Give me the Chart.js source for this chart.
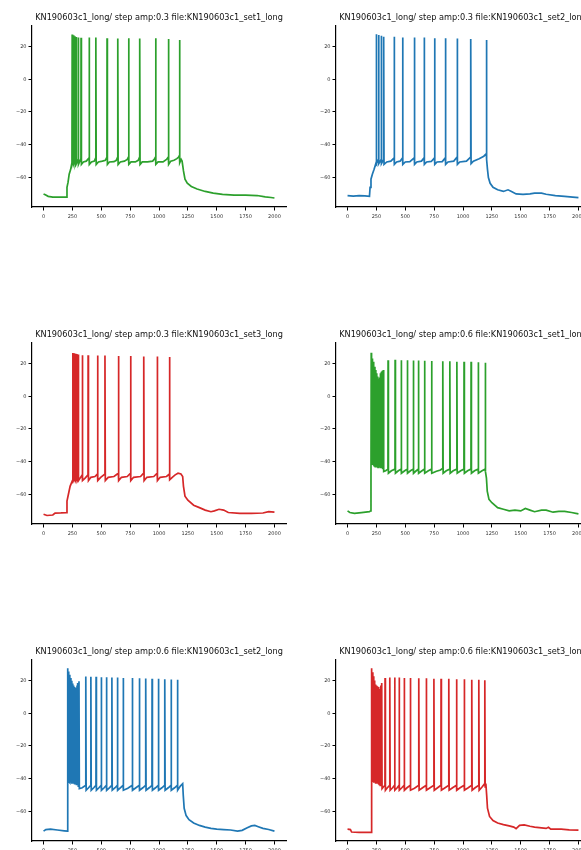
<!DOCTYPE html>
<html>
<head>
<meta charset="utf-8">
<title>Step current responses</title>
<style>
    html, body { margin: 0; padding: 0; background: #fff; overflow: hidden; }
    body { width: 581px; height: 850px; position: relative; }
    canvas { position: absolute; }
</style>
<script src="https://cdn.jsdelivr.net/npm/chart.js@4/dist/chart.umd.min.js"></script>
</head>
<body>
<script>
// Tick values shared by every panel
const xTicks = [0, 250, 500, 750, 1000, 1250, 1500, 1750, 2000];
const yTicks = [20, 0, -20, -40, -60];

const titles = [
    'KN190603c1_long/ step amp:0.3 file:KN190603c1_set1_long',
    'KN190603c1_long/ step amp:0.3 file:KN190603c1_set2_long',
    'KN190603c1_long/ step amp:0.3 file:KN190603c1_set3_long',
    'KN190603c1_long/ step amp:0.6 file:KN190603c1_set1_long',
    'KN190603c1_long/ step amp:0.6 file:KN190603c1_set2_long',
    'KN190603c1_long/ step amp:0.6 file:KN190603c1_set3_long'
];

// Membrane potential traces, [time (ms), voltage (mV)]
const amp03set1 = [
    [0,-70],[15,-70.5],[40,-71.5],[80,-72],[150,-72],[198,-72],
    [203,-66],[212,-63],[222,-58],[235,-55],[246,-51],
    [248,27.3],[251,-51],[259,-49],[260,26.8],[263,-51.5],[271,-49.5],[272,26.2],[275,-51.5],[282,-49.5],[283,25.8],[286,-51.5],
    [300,-49],[301,25.5],[304,-52],[324,-48.5],[325,25.3],[328,-52],
    [345,-50.5],[370,-50],[394,-48],[395,25.5],[398,-52],[415,-50.5],[440,-50],[452,-48],[453,25.5],[456,-52],
    [475,-50.5],[510,-50],[535,-49.5],[549,-47.5],[550,25],[553,-52],[570,-50.5],[610,-50.3],[630,-49.5],[642,-47.5],[643,24.8],[646,-52],
    [665,-50.5],[700,-50],[725,-49],[736,-47.5],[737,25],[740,-52],[758,-50.5],[795,-50.5],[820,-49.5],[832,-47.5],[833,24.8],[836,-52],
    [855,-50.5],[900,-50.5],[945,-50],[962,-48.5],[970,-47.5],[971,25],[974,-52],[992,-50.5],[1035,-50.5],[1065,-49],[1081,-47.5],[1082,24.5],[1085,-52],
    [1102,-50],[1130,-49.5],[1155,-48.5],[1170,-47.5],[1177,-46.5],[1178,24],[1181,-51],[1192,-49],[1200,-50],
    [1212,-56],[1225,-61],[1245,-63.5],[1280,-65.5],[1330,-67],[1400,-68.5],[1470,-69.5],[1550,-70.3],[1650,-70.8],[1750,-70.8],
    [1850,-71],[1920,-71.8],[1970,-72.2],[2000,-72.5]
];

const amp03set2 = [
    [0,-71],[50,-71.3],[100,-71],[150,-71.2],[190,-71.5],[195,-66],[203,-61],[215,-58],[230,-55],[247,-51],
    [249,27.5],[252,-51.5],[268,-49],[269,27],[272,-51.5],[291,-49],[292,26.5],[295,-51.5],[312,-49],[313,26],[316,-52],
    [340,-50.5],[375,-50],[403,-48],[404,26],[407,-52],[425,-50.5],[455,-50],[476,-48],[477,25.5],[480,-52],
    [500,-50.5],[540,-50.3],[578,-48],[579,25.5],[582,-52],[600,-50.5],[640,-50],[663,-48],[664,25.5],[667,-52],
    [685,-50.5],[725,-50.2],[753,-48],[754,25],[757,-52],[775,-50.5],[820,-50.3],[847,-48],[848,25],[851,-52],
    [870,-50.5],[920,-50],[949,-47.5],[950,24.8],[953,-52],[972,-50.5],[1030,-50],[1066,-47.5],[1067,24.5],[1070,-51.5],
    [1090,-50],[1140,-48.5],[1180,-47],[1202,-45.5],[1203,24],[1206,-49],
    [1212,-55],[1220,-60],[1235,-63.5],[1260,-66],[1300,-67.5],[1350,-68.5],[1390,-67.5],[1420,-68.5],[1460,-70],[1520,-70.3],
    [1580,-70],[1620,-69.5],[1680,-69.5],[1720,-70.2],[1800,-71],[1880,-71.5],[1950,-72],[2000,-72.3]
];

const amp03set3 = [
    [0,-72],[30,-72.8],[80,-72.5],[100,-71.3],[150,-71.2],[198,-71],[203,-64],[215,-60],[230,-55],[250,-51.5],
    [254,26.4],[257,-51],[265,-49.5],[266,26.2],[269,-51],[277,-49.5],[278,26],[281,-51],[288,-49.5],[289,25.8],[292,-51],
    [300,-49.5],[301,25.5],[304,-51.5],[335,-48],[336,25],[339,-51.5],[360,-50],[385,-48],[386,25],[389,-51.5],
    [410,-49.5],[445,-49],[467,-47.5],[468,24.8],[471,-51.5],[495,-49.5],[531,-47.5],[532,24.8],[535,-51.5],
    [560,-49.5],[610,-49],[648,-47],[649,24.5],[652,-51.5],[675,-49.5],[725,-49],[753,-47],[754,24.5],[757,-51.5],
    [780,-49.5],[840,-49],[867,-47],[868,24.2],[871,-51.5],[895,-49.5],[955,-49],[984,-47],[985,24.2],[988,-51.5],
    [1010,-49.5],[1065,-49],[1090,-47.5],[1091,24],[1094,-51],[1115,-49.5],[1140,-48],[1165,-47],[1190,-47.5],[1205,-49],
    [1212,-55],[1225,-61],[1250,-63.5],[1300,-66.5],[1350,-68],[1400,-69.5],[1450,-70.5],[1480,-70],[1520,-69],[1560,-69.5],
    [1600,-71],[1700,-71.5],[1800,-71.5],[1900,-71.3],[1950,-70.5],[2000,-70.8]
];

const amp06set1 = [
    [0,-70],[20,-71],[60,-71.5],[120,-71],[190,-70.5],[200,-70],[203,-50],
    [205,26.5],[208,-42],[213,23],[216,-42],[221,21],[224,-42.5],[229,19.5],[232,-42.5],[237,18],[240,-43],
    [245,16],[248,-43],[253,14],[256,-43],[261,12],[264,-43.5],[269,10.5],[272,-43.5],[277,11.5],[280,-43.5],
    [285,14],[288,-44],[293,15],[296,-44],[301,15.5],[304,-44.5],[310,16],[313,-46],
    [330,-45.5],[350,-44.5],[351,22],[354,-47],[380,-45.5],[411,-44.5],[412,22.3],[415,-47],[440,-45.5],[464,-44.5],[465,22],[468,-47],
    [495,-45.5],[517,-44.5],[518,22],[521,-47],[545,-45.5],[569,-44.5],[570,21.8],[573,-47],[595,-45.5],[613,-44.5],[614,21.8],[617,-47],
    [645,-45.5],[666,-44.5],[667,21.6],[670,-47],[700,-45.5],[727,-44.5],[728,21.5],[731,-47],[770,-45.8],[805,-45],[824,-44],[825,21.3],[828,-47],
    [855,-45.5],[885,-44.5],[886,21.3],[889,-47],[915,-45.5],[946,-44.5],[947,21],[950,-47],[980,-45.5],[1008,-44.5],[1009,21],[1012,-47],
    [1040,-45.5],[1069,-44.5],[1070,21],[1073,-47],[1100,-45.5],[1131,-44.5],[1132,20.8],[1135,-47],[1165,-45.5],[1192,-44.5],[1193,20.5],[1196,-46],
    [1203,-50],[1210,-58],[1225,-63],[1250,-65],[1300,-68],[1350,-69],[1400,-70],[1450,-69.5],[1500,-70],[1540,-68.5],
    [1580,-69.5],[1620,-70.5],[1680,-69.5],[1720,-69.5],[1780,-70.8],[1830,-70.3],[1880,-70.3],[1940,-71],[2000,-71.8]
];

const amp06set2 = [
    [0,-72],[20,-71],[60,-70.8],[120,-71.3],[180,-71.8],[207,-72],[209,-50],
    [210,27.5],[213,-42],[218,25.5],[221,-42],[226,23.5],[229,-42.5],[234,21.5],[237,-42.5],[242,19.8],[245,-43],
    [250,18.2],[253,-43],[258,17],[261,-43],[266,16],[269,-43.5],[274,15.2],[277,-43.5],[282,15.5],[285,-44],
    [290,17],[293,-44],[298,18.5],[301,-44.5],[307,19.6],[310,-46],
    [335,-45.5],[365,-44],[366,22.5],[369,-47],[390,-45.5],[409,-44],[410,22.3],[413,-47],[435,-45.5],[454,-44],[455,22.3],[458,-47],
    [480,-45.5],[499,-44],[500,22],[503,-47],[525,-45.5],[544,-44],[545,22],[548,-47],[570,-45.5],[591,-44],[592,21.8],[595,-47],
    [620,-45.5],[639,-44],[640,21.8],[643,-47],[665,-45.5],[689,-44],[690,21.5],[693,-47],[730,-45.8],[768,-44],[769,21.5],[772,-47],
    [800,-45.5],[829,-44],[830,21.3],[833,-47],[860,-45.5],[884,-44],[885,21.2],[888,-47],[915,-45.5],[939,-44],[940,21],[943,-47],
    [970,-45.5],[994,-44],[995,21],[998,-47],[1025,-45.5],[1049,-44],[1050,20.8],[1053,-47],[1080,-45.5],[1104,-44],[1105,20.6],[1108,-47],
    [1135,-45.5],[1159,-44],[1160,20.5],[1163,-47],[1185,-44.5],[1205,-43],
    [1210,-50],[1218,-58],[1235,-62.5],[1260,-65],[1300,-67],[1350,-68.5],[1400,-69.5],[1450,-70.3],[1500,-70.8],[1560,-71],
    [1620,-71.3],[1680,-72],[1720,-71.5],[1760,-70],[1800,-68.8],[1830,-68.5],[1860,-69.3],[1900,-70.3],[1950,-71],[2000,-72]
];

const amp06set3 = [
    [0,-70.8],[25,-71],[35,-72.5],[100,-72.7],[160,-72.7],[205,-72.7],[207,-50],
    [208,27.5],[211,-42],[216,25],[219,-42],[224,22.6],[227,-42.5],[232,20],[235,-42.5],[240,17.5],[243,-43],
    [248,17],[251,-43],[256,16.5],[259,-43],[264,16],[267,-43.5],[272,15],[275,-43.5],[280,14.8],[283,-44],
    [288,17],[291,-44],[296,18.5],[299,-46],
    [310,-45],[324,-44],[325,21.5],[328,-47],[345,-45.5],[365,-44],[366,21.8],[369,-47],[390,-45.5],[407,-44],[408,21.8],[411,-47],
    [430,-45.5],[446,-44],[447,21.8],[450,-47],[470,-45.5],[490,-44],[491,21.5],[494,-47],[515,-45.5],[543,-44],[544,21.5],[547,-47],
    [580,-45.8],[616,-44],[617,21.3],[620,-47],[650,-45.5],[681,-44],[682,21.3],[685,-47],[715,-45.5],[747,-44],[748,21],[751,-47],
    [780,-45.5],[809,-44],[810,21],[813,-47],[845,-45.5],[876,-44],[877,21],[880,-47],[910,-45.5],[943,-44],[944,20.8],[947,-47],
    [975,-45.5],[1010,-44],[1011,20.8],[1014,-47],[1045,-45.5],[1075,-44],[1076,20.5],[1079,-47],[1105,-45.5],[1136,-44],[1137,20.5],[1140,-47],
    [1165,-45],[1188,-43],[1189,20.2],[1192,-45],[1198,-43],
    [1205,-50],[1212,-58],[1230,-63],[1260,-65.5],[1300,-67],[1350,-68],[1400,-68.8],[1440,-69.5],[1460,-70.5],[1490,-68.5],
    [1530,-68.2],[1580,-69],[1620,-69.5],[1680,-70],[1720,-70.3],[1740,-69.6],[1760,-70.8],[1850,-70.8],[1920,-71.2],[2000,-71.3]
];

const traces = [amp03set1, amp03set2, amp03set3, amp06set1, amp06set2, amp06set3];
const colors = ['#2ca02c', '#1f77b4', '#d62728', '#2ca02c', '#1f77b4', '#d62728'];

// Grid of axes boxes (left edge of plot area per column, top per row)
const colLeft = [32, 336];
const rowTop = [26, 343, 660];
const plotW = 254, plotH = 181;
const yAxisW = 32, titleH = 18, xAxisH = 18, padRight = 10;

// plain numbers, unicode minus like matplotlib
const fmtTick = v => String(v).replace('-', '\u2212');

// draws the panel heading centred above the plot area
const panelTitle = {
    id: 'panelTitle',
    afterDraw(chart, args, opts) {
        const { ctx, chartArea } = chart;
        ctx.save();
        ctx.font = '8.2px "DejaVu Sans"';
        ctx.fillStyle = '#111';
        ctx.textAlign = 'center';
        ctx.textBaseline = 'middle';
        ctx.fillText(opts.text, (chartArea.left + chartArea.right) / 2, chartArea.top - 8);
        ctx.restore();
    }
};

function axisStyle(pad) {
    return {
        type: 'linear',
        grid: { drawOnChartArea: false, drawTicks: true, tickLength: 3.5, color: '#000', tickWidth: 1 },
        border: { display: true, color: '#000', width: 1.2 },
        ticks: {
            color: '#333',
            font: { family: 'DejaVu Sans', size: 5 },
            autoSkip: false,
            maxRotation: 0,
            padding: pad,
            callback: fmtTick
        }
    };
}

traces.forEach((trace, i) => {
    const col = i % 2;
    const row = Math.floor(i / 2);
    const canvas = document.createElement('canvas');
    const w = yAxisW + plotW + padRight;
    const h = titleH + plotH + xAxisH;
    canvas.width = w;
    canvas.height = h;
    canvas.style.width = w + 'px';
    canvas.style.height = h + 'px';
    canvas.style.left = (colLeft[col] - yAxisW) + 'px';
    canvas.style.top = (rowTop[row] - titleH) + 'px';
    document.body.appendChild(canvas);

    const xAxis = Object.assign(axisStyle(3), {
        min: -100,
        max: 2100,
        afterBuildTicks: s => { s.ticks = xTicks.map(v => ({ value: v })); },
        afterFit: s => { s.height = xAxisH; }
    });
    const yAxis = Object.assign(axisStyle(2), {
        min: -78,
        max: 32.5,
        afterBuildTicks: s => { s.ticks = yTicks.map(v => ({ value: v })); },
        afterFit: s => { s.width = yAxisW; }
    });

    new Chart(canvas.getContext('2d'), {
        type: 'line',
        data: {
            datasets: [{
                data: trace.map(p => ({ x: p[0], y: p[1] })),
                borderColor: colors[i],
                borderWidth: 1.7,
                pointRadius: 0,
                tension: 0,
                fill: false
            }]
        },
        options: {
            responsive: false,
            animation: false,
            devicePixelRatio: 1,
            events: [],
            layout: { padding: { top: titleH, right: padRight, left: 0, bottom: 0 } },
            scales: { x: xAxis, y: yAxis },
            plugins: {
                legend: { display: false },
                tooltip: { enabled: false },
                panelTitle: { text: titles[i] }
            }
        },
        plugins: [panelTitle]
    });
});
</script>
</body>
</html>
